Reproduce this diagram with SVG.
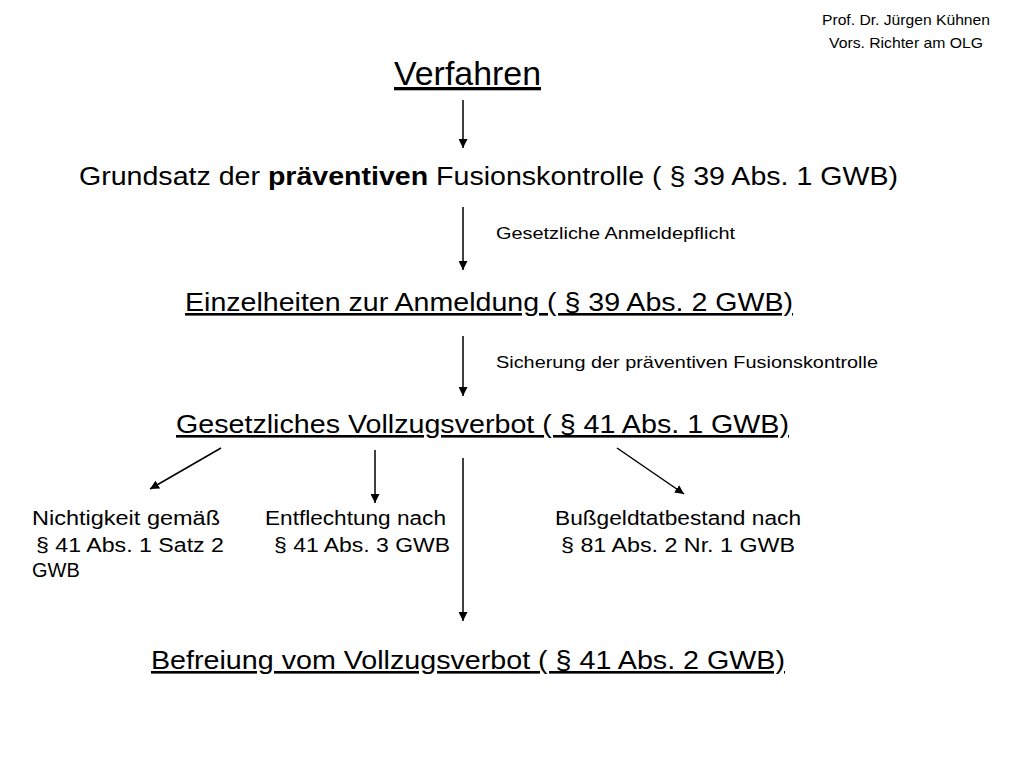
<svg xmlns="http://www.w3.org/2000/svg" width="1024" height="768" viewBox="0 0 1024 768">
<style>
text{font-family:"Liberation Sans",Arial,sans-serif;fill:#000}
.h{font-size:26px}
.s{font-size:17px}
.m{font-size:20px}
.c line{stroke:#000;stroke-width:1.5}
</style>
<defs><marker id="a" viewBox="0 0 10 10" refX="10" refY="5" markerWidth="6" markerHeight="6" orient="auto"><path d="M0,0L10,5L0,10z" fill="#000"/></marker></defs>
<rect width="1024" height="768" fill="#fff"/>
<g id="author"><text x="906" y="25" font-size="15" text-anchor="middle" textLength="168" lengthAdjust="spacingAndGlyphs">Prof. Dr. Jürgen Kühnen</text><text x="906" y="48" font-size="15" text-anchor="middle" textLength="154" lengthAdjust="spacingAndGlyphs">Vors. Richter am OLG</text></g>
<g id="verfahren"><text x="394" y="85" font-size="33" text-decoration="underline" textLength="147" lengthAdjust="spacingAndGlyphs">Verfahren</text></g>
<g id="grundsatz"><text x="79" y="185" class="h" textLength="819" lengthAdjust="spacingAndGlyphs">Grundsatz der <tspan font-weight="bold">präventiven</tspan> Fusionskontrolle ( §  39 Abs. 1 GWB)</text></g>
<g id="einzelheiten"><text x="185" y="311" class="h" text-decoration="underline" textLength="608" lengthAdjust="spacingAndGlyphs">Einzelheiten zur Anmeldung ( §  39 Abs. 2 GWB)</text></g>
<g id="vollzugsverbot"><text x="176" y="433" class="h" text-decoration="underline" textLength="613" lengthAdjust="spacingAndGlyphs">Gesetzliches Vollzugsverbot ( §  41 Abs. 1 GWB)</text></g>
<g id="nichtigkeit"><text x="32" y="525" class="m" textLength="188" lengthAdjust="spacingAndGlyphs">Nichtigkeit gemäß</text><text x="36" y="552" class="m" textLength="188" lengthAdjust="spacingAndGlyphs">§  41 Abs. 1 Satz 2</text><text x="32" y="577" class="m">GWB</text></g>
<g id="entflechtung"><text x="265" y="525" class="m" textLength="181" lengthAdjust="spacingAndGlyphs">Entflechtung nach</text><text x="274" y="552" class="m" textLength="176" lengthAdjust="spacingAndGlyphs">§  41 Abs. 3 GWB</text></g>
<g id="bussgeld"><text x="555" y="525" class="m" textLength="246" lengthAdjust="spacingAndGlyphs">Bußgeldtatbestand nach</text><text x="561" y="552" class="m" textLength="234" lengthAdjust="spacingAndGlyphs">§  81 Abs. 2 Nr. 1 GWB</text></g>
<g id="befreiung"><text x="151" y="669" class="h" text-decoration="underline" textLength="634" lengthAdjust="spacingAndGlyphs">Befreiung vom Vollzugsverbot ( §  41 Abs. 2 GWB)</text></g>
<g class="c" id="connectors">
<line x1="463" y1="100" x2="463" y2="148" marker-end="url(#a)"/>
<line x1="463" y1="207" x2="463" y2="270" marker-end="url(#a)"/>
<text x="496" y="239" class="s" textLength="239" lengthAdjust="spacingAndGlyphs">Gesetzliche Anmeldepflicht</text>
<line x1="463" y1="336" x2="463" y2="396" marker-end="url(#a)"/>
<text x="496" y="368" class="s" textLength="382" lengthAdjust="spacingAndGlyphs">Sicherung der präventiven Fusionskontrolle</text>
<line x1="221" y1="448" x2="150" y2="489" marker-end="url(#a)"/>
<line x1="375" y1="450" x2="375" y2="503" marker-end="url(#a)"/>
<line x1="463" y1="458" x2="463" y2="621" marker-end="url(#a)"/>
<line x1="617" y1="448" x2="684" y2="494" marker-end="url(#a)"/>
</g>
</svg>
